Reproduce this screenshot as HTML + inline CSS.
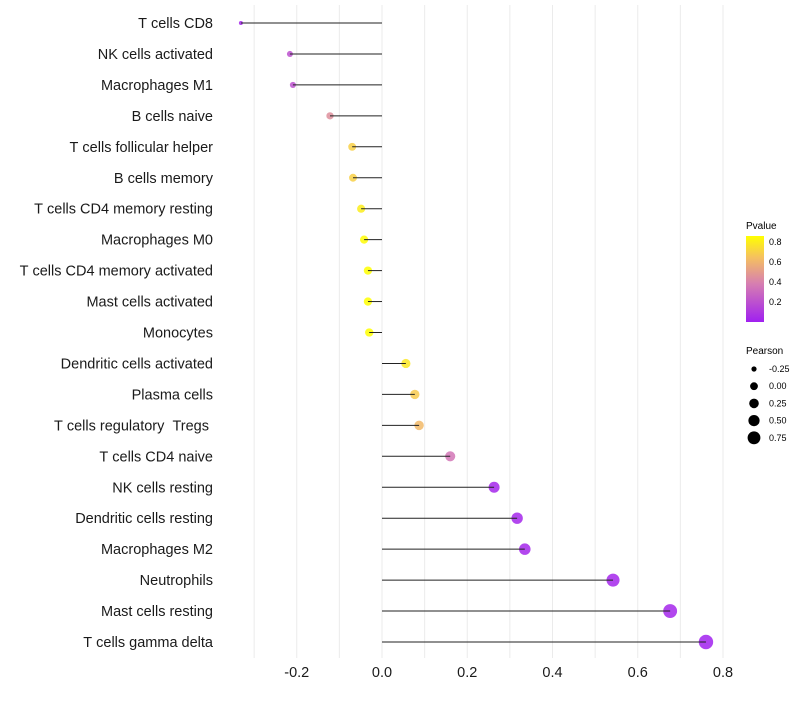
<!DOCTYPE html>
<html><head><meta charset="utf-8"><style>
body{margin:0;background:#fff;font-family:"Liberation Sans",sans-serif}
svg text{font-family:"Liberation Sans",sans-serif}
</style></head><body>
<svg id="c" width="800" height="700" xmlns="http://www.w3.org/2000/svg">
<defs><linearGradient id="pg" x1="0" y1="1" x2="0" y2="0">
<stop offset="0" stop-color="#A020F0"/><stop offset="0.45" stop-color="#D77FB0"/><stop offset="0.75" stop-color="#F5C060"/><stop offset="1" stop-color="#FFFF00"/></linearGradient></defs>
<g id="grid"></g><g id="marks"></g><g id="ylab"></g><g id="xlab"></g>
<g>
<text x="746" y="229" font-size="10" fill="#000">Pvalue</text>
<rect x="746" y="236" width="18" height="86" fill="url(#pg)"/>
<text x="769" y="245" font-size="9">0.8</text><text x="769" y="265" font-size="9">0.6</text>
<text x="769" y="285" font-size="9">0.4</text><text x="769" y="305" font-size="9">0.2</text>
</g>
<g id="sizeleg">
<text x="746" y="354" font-size="10">Pearson</text>
</g>
</svg>
<script>
const categories=["T cells CD8","NK cells activated","Macrophages M1","B cells naive","T cells follicular helper","B cells memory","T cells CD4 memory resting","Macrophages M0","T cells CD4 memory activated","Mast cells activated","Monocytes","Dendritic cells activated","Plasma cells","T cells regulatory  Tregs ","T cells CD4 naive","NK cells resting","Dendritic cells resting","Macrophages M2","Neutrophils","Mast cells resting","T cells gamma delta"];
const pearson=[-0.331,-0.216,-0.209,-0.122,-0.070,-0.068,-0.049,-0.042,-0.033,-0.033,-0.030,0.056,0.077,0.087,0.160,0.263,0.317,0.335,0.542,0.676,0.760];
const pvalue=[0.03,0.2,0.2,0.45,0.7,0.7,0.8,0.85,0.86,0.86,0.86,0.78,0.68,0.62,0.35,0.03,0.03,0.03,0.03,0.03,0.01];
const xTicks=[-0.2,0,0.2,0.4,0.6,0.8];
const sizeLegend=[-0.25,0,0.25,0.5,0.75];
const legendR=[2.6,3.9,4.8,5.6,6.4];
const NS="http://www.w3.org/2000/svg";
const X=v=>382+v*426.25, Y=i=>23+i*30.95;
const R=v=>Math.sqrt(Math.max(2,18.6+44*v));
function col(p){const t=Math.min(1,p/0.86);const st=[[0,[160,32,240]],[0.45,[215,127,176]],[0.75,[245,192,96]],[1,[255,255,0]]];
for(let k=1;k<st.length;k++){if(t<=st[k][0]){const a=st[k-1],b=st[k],f=(t-a[0])/(b[0]-a[0]);return "rgb("+a[1].map((c,j)=>Math.round(c+(b[1][j]-c)*f)).join(",")+")";}}return "rgb(255,255,0)";}
function mk(tag,at,par){const e=document.createElementNS(NS,tag);for(const k in at)e.setAttribute(k,at[k]);document.getElementById(par).appendChild(e);return e;}
for(let v=-0.3;v<=0.85;v+=0.1){const l=mk("line",{x1:X(v),x2:X(v),y1:5,y2:658,stroke:"#ebebeb","stroke-width":1},"grid");

}
categories.forEach((c,i)=>{
const p=mk("circle",{cx:X(pearson[i]),cy:Y(i),r:R(pearson[i]),fill:col(pvalue[i]),"fill-opacity":0.85},"marks");


const s=mk("line",{x1:X(0),x2:X(pearson[i]),y1:Y(i),y2:Y(i),stroke:"#222","stroke-width":1},"marks");


const t=mk("text",{x:213,y:Y(i)+5,"text-anchor":"end","font-size":14.5,fill:"#1a1a1a","xml:space":"preserve"},"ylab");t.textContent=c.replace(/ /g,"\u00a0");


});
xTicks.forEach(v=>{const t=mk("text",{x:X(v),y:677,"text-anchor":"middle","font-size":14.5,fill:"#1a1a1a"},"xlab");t.textContent=v.toFixed(1);

});
sizeLegend.forEach((v,i)=>{const y=369+i*17.2;
const c=mk("circle",{cx:754,cy:y,r:legendR[i],fill:"#000"},"sizeleg");


const t=mk("text",{x:769,y:y+3,"font-size":9},"sizeleg");t.textContent=v.toFixed(2);

});
</script>
</body></html>
